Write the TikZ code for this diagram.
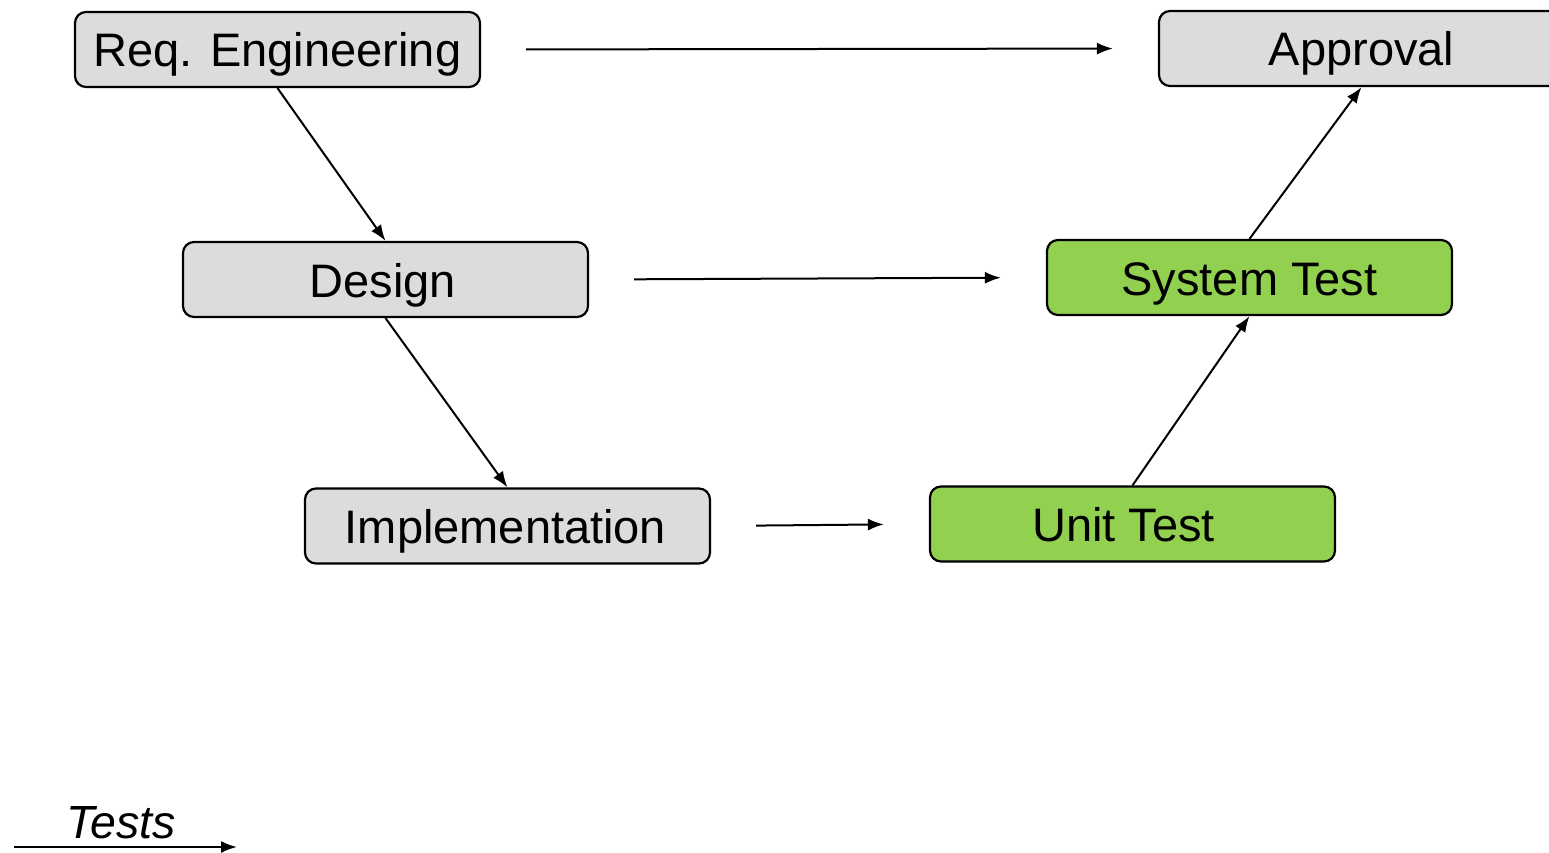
\documentclass[tikz,border=0pt]{standalone}
\usepackage{fontspec}
\setmainfont{Liberation Sans}
\usetikzlibrary{arrows.meta}
\definecolor{boxgray}{HTML}{DCDCDC}
\definecolor{boxgreen}{HTML}{92D050}
\tikzset{
  phase/.style={draw=black, line width=2.2pt, rounded corners=11pt,
    minimum width=405pt, minimum height=75pt, inner sep=0pt,
    text height=45pt, text depth=10pt,
    font=\fontsize{47}{50}\selectfont, text=black},
  grayphase/.style={phase, fill=boxgray},
  greenphase/.style={phase, fill=boxgreen},
  flow/.style={line width=2pt, -{Latex[length=16pt, width=12pt]}},
  across/.style={flow, shorten <=45pt, shorten >=45pt}
}
\begin{document}
\begin{tikzpicture}[x=1pt, y=-1pt]
\useasboundingbox (0,0) rectangle (1549,853);
\clip (0,0) rectangle (1549,853);
\node[grayphase] (req) at (277.5,49.5) {Req. Engineering};
\node[grayphase] (appr) at (1361.5,48.5) {Approval};
\node[grayphase] (design) at (385.5,279.5) {Design\rule{5pt}{0pt}};
\node[greenphase] (sys) at (1249.5,277.5) {System Test};
\node[grayphase] (impl) at (507.5,526) {Implementation\rule{4pt}{0pt}};
\node[greenphase] (unit) at (1132.5,524) {Unit Test\rule{18pt}{0pt}};
\draw[flow] (req.south) -- (design.north);
\draw[flow] (design.south) -- (impl.north);
\draw[flow] (unit.north) -- (sys.south);
\draw[flow] (sys.north) -- (appr.south);
\draw[across] (req.east) -- (appr.west);
\draw[across] (design.east) -- (sys.west);
\draw[across] (impl.east) -- (unit.west);
\coordinate (tstart) at (14,847);
\coordinate (tend) at (237,847);
\node[font=\fontsize{46.5}{48}\selectfont\itshape, inner sep=0pt] (tests) at (121,823) {Tests};
\draw[flow] (tstart) -- (tend);
\end{tikzpicture}
\end{document}
